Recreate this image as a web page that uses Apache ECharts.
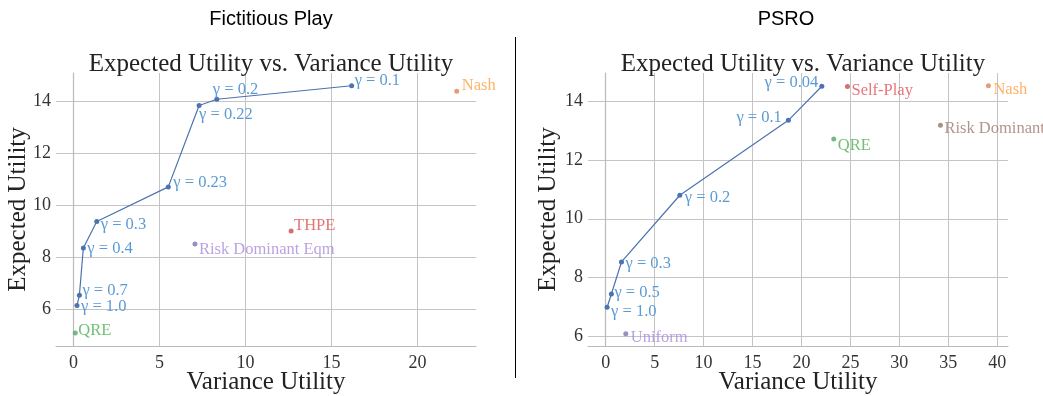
<!DOCTYPE html>
<html>
<head>
<meta charset="utf-8">
<script src="https://cdn.jsdelivr.net/npm/echarts@6/dist/echarts.min.js"></script>
<style>html,body{margin:0;padding:0;background:#fff;}#c{width:1043px;height:396px;}</style>
</head>
<body>
<div id="c"></div>
<script>
// ---- Data: Fictitious Play ----
const fpGammaLabels = ['γ = 0.1','γ = 0.2','γ = 0.22','γ = 0.23','γ = 0.3','γ = 0.4','γ = 0.7','γ = 1.0'];
const fpGammaVar = [16.17, 8.33, 7.30, 5.51, 1.35, 0.57, 0.34, 0.20];
const fpGammaExp = [14.59, 14.07, 13.83, 10.70, 9.37, 8.35, 6.53, 6.14];
const fpOtherNames = ['QRE', 'Risk Dominant Eqm', 'THPE', 'Nash'];
const fpOtherVar = [0.10, 7.06, 12.65, 22.28];
const fpOtherExp = [5.08, 8.50, 9.00, 14.38];
const fpXTicks = [0, 5, 10, 15, 20];
const fpYTicks = [6, 8, 10, 12, 14];

// ---- Data: PSRO ----
const psroGammaLabels = ['γ = 0.04','γ = 0.1','γ = 0.2','γ = 0.3','γ = 0.5','γ = 1.0'];
const psroGammaVar = [22.08, 18.66, 7.57, 1.61, 0.58, 0.14];
const psroGammaExp = [14.51, 13.35, 10.80, 8.53, 7.44, 6.99];
const psroOtherNames = ['Uniform', 'Self-Play', 'Nash', 'Risk Dominant', 'QRE'];
const psroOtherVar = [2.05, 24.7, 39.1, 34.2, 23.3];
const psroOtherExp = [6.09, 14.50, 14.53, 13.18, 12.71];
const psroXTicks = [0, 5, 10, 15, 20, 25, 30, 35, 40];
const psroYTicks = [6, 8, 10, 12, 14];

// ---- Styles (label placement / colours) ----
const SERIF = '"Liberation Serif", "DejaVu Serif", serif';
const SANS = '"Liberation Sans", Arial, sans-serif';
const lineColor = '#4C72B0';
const gammaLabelColor = '#5B9BD5';
const fpGammaLabelPos = [['right',[0.5,-5]],['right',[-6.5,-10]],['right',[-2.5,9]],['right',[2.5,-4]],['right',[1.5,3]],['right',[1.5,1]],['right',[0.5,-5]],['right',[1.5,1]]];
const fpOtherStyle = [
  {c:'#55A868', lc:'#4CAF50', off:[0.5,-2]},
  {c:'#8172B3', lc:'#A98BDA', off:[1.5,6]},
  {c:'#C44E52', lc:'#D9534F', off:[0.5,-5]},
  {c:'#DD8452', lc:'#FFA040', off:[2.5,-6]}
];
const psroGammaLabelPos = [['left',[-1,-4]],['left',[-4,-3]],['right',[2.5,2]],['right',[1.5,2]],['right',[0.5,-1]],['right',[1.5,4]]];
const psroOtherStyle = [
  {c:'#8172B3', lc:'#A98BDA', off:[2.5,4]},
  {c:'#C44E52', lc:'#E0525A', off:[1.5,4]},
  {c:'#DD8452', lc:'#FFA040', off:[2.5,4]},
  {c:'#937860', lc:'#9C7B6E', off:[1.5,3]},
  {c:'#55A868', lc:'#4CAF50', off:[1.5,7]}
];
const LABEL_SIZE = 16.5;

function gammaData(vars, exps, labels, pos) {
  return vars.map((v, i) => ({
    value: [v, exps[i]],
    label: {show: true, formatter: labels[i], position: pos[i][0], distance: 0, offset: pos[i][1]}
  }));
}
function otherSeries(vars, exps, names, styles, xi) {
  return names.map((n, i) => ({
    type: 'scatter', xAxisIndex: xi, yAxisIndex: xi, symbolSize: 5, z: 3,
    itemStyle: {color: styles[i].c},
    label: {show: true, formatter: n, position: 'right', distance: 0, offset: styles[i].off,
            color: styles[i].lc, fontFamily: SERIF, fontSize: LABEL_SIZE},
    data: [[vars[i], exps[i]]]
  }));
}
function xAxis(gi, min, max, ticks) {
  return {
    type: 'value', gridIndex: gi, min: min, max: max,
    name: 'Variance Utility', nameLocation: 'middle', nameGap: 24, nameMoveOverlap: false,
    nameTextStyle: {fontFamily: SERIF, fontSize: 25, color: '#222'},
    axisLine: {show: true, lineStyle: {color: '#bbbbbb', width: 1.2}},
    axisTick: {show: false, customValues: ticks},
    axisLabel: {customValues: ticks, fontFamily: SERIF, fontSize: 18, color: '#333', margin: 8},
    splitLine: {show: true, lineStyle: {color: '#c4c4c4', width: 1}}
  };
}
function yAxis(gi, min, max, ticks, gap) {
  return {
    type: 'value', gridIndex: gi, min: min, max: max,
    name: 'Expected Utility', nameLocation: 'middle', nameGap: gap, nameRotate: 90, nameMoveOverlap: false,
    nameTextStyle: {fontFamily: SERIF, fontSize: 25, color: '#222'},
    axisLine: {show: true, lineStyle: {color: '#bbbbbb', width: 1.2}},
    axisTick: {show: false, customValues: ticks},
    axisLabel: {customValues: ticks, fontFamily: SERIF, fontSize: 18, color: '#333', margin: 5},
    splitLine: {show: true, lineStyle: {color: '#c4c4c4', width: 1}}
  };
}

const chart = echarts.init(document.getElementById('c'), null, {renderer: 'canvas'});
chart.setOption({
  backgroundColor: '#ffffff',
  animation: false,
  title: [
    {text: 'Fictitious Play', left: 266, top: 4, textAlign: 'center', textStyle: {fontFamily: SANS, fontSize: 20, fontWeight: 'normal', color: '#000'}},
    {text: 'PSRO', left: 781, top: 4, textAlign: 'center', textStyle: {fontFamily: SANS, fontSize: 20, fontWeight: 'normal', color: '#000'}},
    {text: 'Expected Utility vs. Variance Utility', left: 266, top: 47, textAlign: 'center', textStyle: {fontFamily: SERIF, fontSize: 25, fontWeight: 'normal', color: '#222'}},
    {text: 'Expected Utility vs. Variance Utility', left: 798, top: 47, textAlign: 'center', textStyle: {fontFamily: SERIF, fontSize: 25, fontWeight: 'normal', color: '#222'}}
  ],
  grid: [
    {left: 56, top: 73, right: 567, bottom: 50, containLabel: false, outerBoundsMode: 'none'},
    {left: 588, top: 73, right: 35, bottom: 50, containLabel: false, outerBoundsMode: 'none'}
  ],
  xAxis: [xAxis(0, -1.02, 23.4, fpXTicks), xAxis(1, -1.81, 41.1, psroXTicks)],
  yAxis: [yAxis(0, 4.58, 15.08, fpYTicks, 25.5), yAxis(1, 5.67, 14.96, psroYTicks, 27.5)],
  graphic: [
    {type: 'line', shape: {x1: 515.5, y1: 37, x2: 515.5, y2: 378}, style: {stroke: '#000', lineWidth: 1}}
  ],
  series: [
    {
      type: 'line', xAxisIndex: 0, yAxisIndex: 0, symbol: 'circle', symbolSize: 5, z: 4,
      lineStyle: {color: lineColor, width: 1.2}, itemStyle: {color: lineColor},
      label: {color: gammaLabelColor, fontFamily: SERIF, fontSize: LABEL_SIZE},
      data: gammaData(fpGammaVar, fpGammaExp, fpGammaLabels, fpGammaLabelPos)
    },
    ...otherSeries(fpOtherVar, fpOtherExp, fpOtherNames, fpOtherStyle, 0),
    {
      type: 'line', xAxisIndex: 1, yAxisIndex: 1, symbol: 'circle', symbolSize: 5, z: 4,
      lineStyle: {color: lineColor, width: 1.2}, itemStyle: {color: lineColor},
      label: {color: gammaLabelColor, fontFamily: SERIF, fontSize: LABEL_SIZE},
      data: gammaData(psroGammaVar, psroGammaExp, psroGammaLabels, psroGammaLabelPos)
    },
    ...otherSeries(psroOtherVar, psroOtherExp, psroOtherNames, psroOtherStyle, 1)
  ]
});
</script>
</body>
</html>
